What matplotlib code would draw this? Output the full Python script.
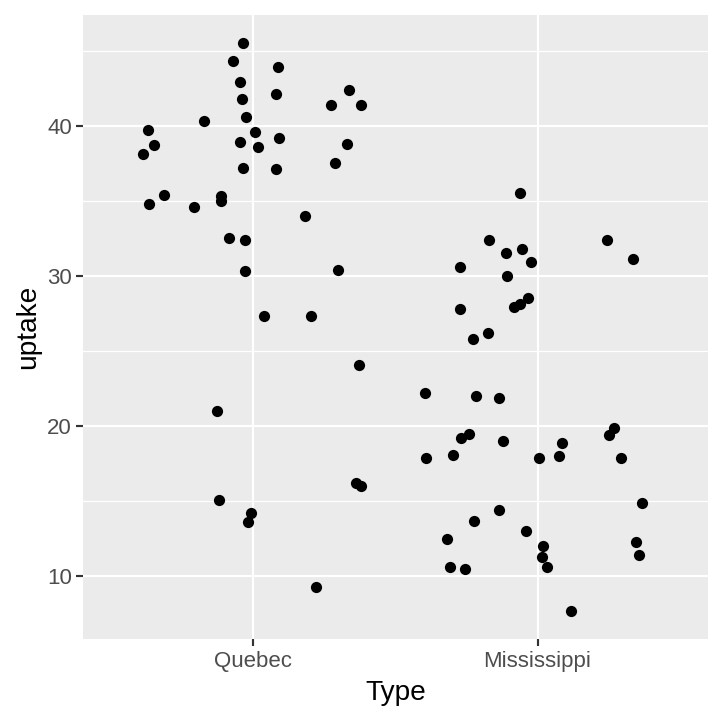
import matplotlib
matplotlib.use("Agg")
import matplotlib.pyplot as plt
import numpy as np

plt.rcParams['font.family'] = ['Liberation Sans', 'DejaVu Sans']

categories = ["Quebec", "Mississippi"]

quebec_uptake = [45.5, 44.3, 43.9, 42.9, 42.1, 42.4, 41.4, 41.4, 41.8, 40.6, 40.3,
                 39.7, 39.6, 39.2, 38.8, 38.7, 38.9, 38.6, 38.1, 37.5, 37.2, 37.1,
                 35.4, 34.8, 34.6, 35.3, 35.0, 34.0, 32.5, 32.4, 30.3, 30.4, 27.3,
                 27.3, 24.1, 21.0, 16.2, 16.0, 15.1, 14.2, 13.6, 9.3]
quebec_jitter = [-0.036, -0.071, 0.085, -0.048, 0.080, 0.336, 0.272, 0.380, -0.040,
                 -0.027, -0.174, -0.370, 0.007, 0.089, 0.331, -0.351, -0.047, 0.015,
                 -0.388, 0.288, -0.036, 0.080, -0.316, -0.369, -0.208, -0.116, -0.116,
                 0.182, -0.085, -0.031, -0.029, 0.297, 0.036, 0.201, 0.370, -0.128,
                 0.360, 0.379, -0.121, -0.010, -0.020, 0.219]

miss_uptake = [35.5, 32.4, 32.4, 31.8, 31.5, 30.9, 31.1, 30.6, 30.0, 28.5, 28.1,
               27.9, 27.8, 26.2, 25.8, 22.2, 22.0, 21.9, 19.5, 19.2, 19.0, 19.9,
               19.4, 18.9, 17.9, 18.1, 17.9, 18.0, 17.9, 14.9, 14.4, 13.7, 12.5,
               13.0, 12.3, 11.4, 12.0, 11.3, 10.6, 10.6, 10.5, 7.7]
miss_jitter = [-0.063, -0.170, 0.246, -0.056, -0.110, -0.022, 0.335, -0.272, -0.106,
               -0.035, -0.063, -0.082, -0.274, -0.173, -0.228, -0.397, -0.218, -0.135,
               -0.243, -0.271, -0.120, 0.268, 0.250, 0.085, -0.393, -0.298, 0.004,
               0.077, 0.295, 0.369, -0.137, -0.225, -0.318, -0.039, 0.345, 0.357,
               0.020, 0.017, 0.032, -0.309, -0.256, 0.117]

y_ticks = [10, 20, 30, 40]
y_minor = [15, 25, 35, 45]

fig = plt.figure(figsize=(5, 5), dpi=144)
ax = fig.add_axes([83/720, 1-639/720, (708-83)/720, (639-15)/720])
ax.set_facecolor("#EBEBEB")

for v in y_minor:
    ax.axhline(v, color="white", lw=0.6, zorder=1)
for v in y_ticks:
    ax.axhline(v, color="white", lw=1.07, zorder=1)
for i in range(len(categories)):
    ax.axvline(i + 1, color="white", lw=1.07, zorder=1)

ax.scatter(1 + np.array(quebec_jitter), quebec_uptake, s=5.6**2, color="black",
           linewidths=0, zorder=3)
ax.scatter(2 + np.array(miss_jitter), miss_uptake, s=5.6**2, color="black",
           linewidths=0, zorder=3)

allv = quebec_uptake + miss_uptake
lo, hi = min(allv), max(allv)
pad = 0.05 * (hi - lo)
ax.set_ylim(lo - pad, hi + pad)
ax.set_xlim(0.4, 2.6)

ax.set_xticks([1, 2])
ax.set_xticklabels(categories)
ax.set_yticks(y_ticks)
for s in ax.spines.values():
    s.set_visible(False)
ax.tick_params(axis="both", length=3.3, width=1.07, color="#333333",
               labelcolor="#4D4D4D", labelsize=11.1, pad=2.2)
ax.tick_params(axis="x", pad=2.5)
ax.set_xlabel("Type", fontsize=14, color="black", labelpad=4)
ax.set_ylabel("uptake", fontsize=14, color="black", labelpad=3)

fig.savefig("out.png", dpi=144)
